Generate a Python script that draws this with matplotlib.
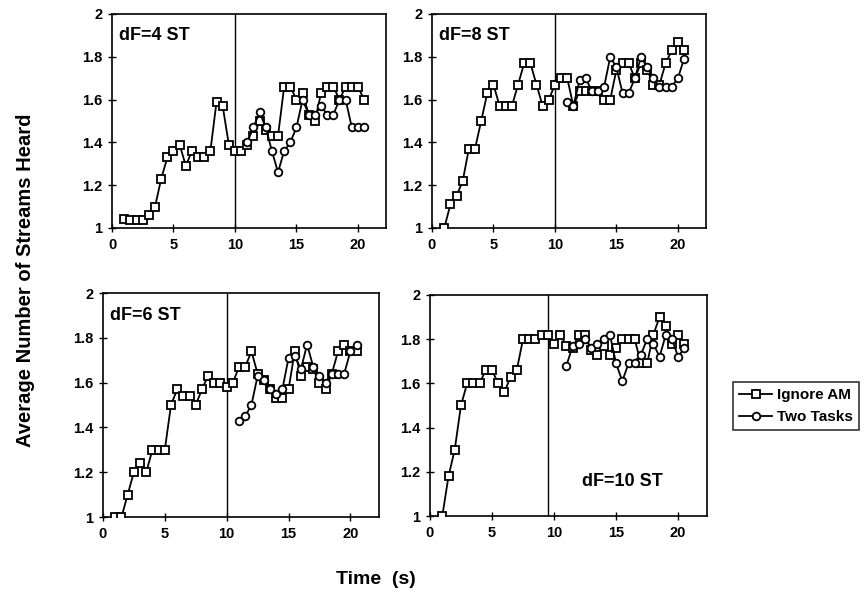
import matplotlib
matplotlib.use("Agg")
import matplotlib.pyplot as plt
from matplotlib.ticker import FuncFormatter

plt.rcParams["font.family"] = ["Liberation Sans", "DejaVu Sans"]
plt.rcParams["font.weight"] = "bold"

# ==========================================================
# DATA
# ==========================================================

time_ignore = [
    1.0, 1.5, 2.0, 2.5, 3.0, 3.5, 4.0, 4.5, 5.0, 5.5,
    6.0, 6.5, 7.0, 7.5, 8.0, 8.5, 9.0, 9.5, 10.0, 10.5,
    11.0, 11.5, 12.0, 12.5, 13.0, 13.5, 14.0, 14.5, 15.0, 15.5,
    16.0, 16.5, 17.0, 17.5, 18.0, 18.5, 19.0, 19.5, 20.0, 20.5,
]

time_two = [
    11.0, 11.5, 12.0, 12.5, 13.0, 13.5, 14.0, 14.5, 15.0, 15.5,
    16.0, 16.5, 17.0, 17.5, 18.0, 18.5, 19.0, 19.5, 20.0, 20.5,
]

# dF=4 ST
ignore_4 = [
    1.04, 1.035, 1.035, 1.035, 1.06, 1.10, 1.23, 1.33, 1.36, 1.39,
    1.29, 1.36, 1.33, 1.33, 1.36, 1.59, 1.57, 1.39, 1.36, 1.36,
    1.39, 1.43, 1.50, 1.46, 1.43, 1.43, 1.66, 1.66, 1.60, 1.63,
    1.53, 1.50, 1.63, 1.66, 1.66, 1.60, 1.66, 1.66, 1.66, 1.60,
]
two_4 = [
    1.40, 1.47, 1.54, 1.47, 1.36, 1.26, 1.36, 1.40, 1.47, 1.60,
    1.53, 1.53, 1.57, 1.53, 1.53, 1.60, 1.60, 1.47, 1.47, 1.47,
]

# dF=8 ST
ignore_8 = [
    1.00, 1.11, 1.15, 1.22, 1.37, 1.37, 1.50, 1.63, 1.67, 1.57,
    1.57, 1.57, 1.67, 1.77, 1.77, 1.67, 1.57, 1.60, 1.67, 1.70,
    1.70, 1.57, 1.64, 1.64, 1.64, 1.64, 1.60, 1.60, 1.74, 1.77,
    1.77, 1.70, 1.77, 1.74, 1.67, 1.67, 1.77, 1.83, 1.87, 1.83,
]
two_8 = [
    1.59, 1.57, 1.69, 1.70, 1.64, 1.64, 1.66, 1.80, 1.75, 1.63,
    1.63, 1.70, 1.80, 1.75, 1.70, 1.66, 1.66, 1.66, 1.70, 1.79,
]

# dF=6 ST
ignore_6 = [
    1.00, 1.00, 1.10, 1.20, 1.24, 1.20, 1.30, 1.30, 1.30, 1.50,
    1.57, 1.54, 1.54, 1.50, 1.57, 1.63, 1.60, 1.60, 1.58, 1.60,
    1.67, 1.67, 1.74, 1.64, 1.61, 1.57, 1.53, 1.53, 1.57, 1.74,
    1.63, 1.67, 1.66, 1.60, 1.57, 1.64, 1.74, 1.77, 1.74, 1.74,
]
two_6 = [
    1.43, 1.45, 1.50, 1.63, 1.61, 1.57, 1.55, 1.57, 1.71, 1.72,
    1.66, 1.77, 1.67, 1.63, 1.60, 1.64, 1.64, 1.64, 1.74, 1.77,
]

# dF=10 ST
ignore_10 = [
    1.00, 1.18, 1.30, 1.50, 1.60, 1.60, 1.60, 1.66, 1.66, 1.60,
    1.56, 1.63, 1.66, 1.80, 1.80, 1.80, 1.82, 1.82, 1.78, 1.82,
    1.77, 1.76, 1.82, 1.82, 1.75, 1.73, 1.77, 1.73, 1.76, 1.80,
    1.80, 1.80, 1.69, 1.69, 1.82, 1.90, 1.86, 1.78, 1.82, 1.78,
]
two_10 = [
    1.68, 1.77, 1.78, 1.80, 1.76, 1.78, 1.80, 1.82, 1.69, 1.61,
    1.69, 1.69, 1.73, 1.80, 1.78, 1.72, 1.82, 1.80, 1.72, 1.76,
]

panel_labels = ["dF=4 ST", "dF=8 ST", "dF=6 ST", "dF=10 ST"]
marker_lines = [10.0, 10.0, 10.0, 9.5]

# ==========================================================
# FIGURE
# ==========================================================

fig = plt.figure(figsize=(8.65, 5.94), dpi=100)

positions = [
    [0.1295, 0.6162, 0.317, 0.3603],
    [0.4994, 0.6162, 0.317, 0.3603],
    [0.1190, 0.1296, 0.319, 0.3771],
    [0.4970, 0.1313, 0.320, 0.3721],
]

ignore_sets = [ignore_4, ignore_8, ignore_6, ignore_10]
two_sets = [two_4, two_8, two_6, two_10]

label_pos = [(0.025, 0.90, "left"), (0.025, 0.90, "left"),
             (0.025, 0.90, "left"), (0.695, 0.155, "center")]

for i in range(4):

    ax = fig.add_axes(positions[i])

    ax.plot(
        time_ignore,
        ignore_sets[i],
        color="black",
        lw=1.3,
        marker="s",
        markersize=6,
        markerfacecolor="white",
        markeredgecolor="black",
        markeredgewidth=1.3,
        label="Ignore AM",
        zorder=3
    )

    ax.plot(
        time_two,
        two_sets[i],
        color="black",
        lw=1.3,
        marker="o",
        markersize=5.5,
        markerfacecolor="white",
        markeredgecolor="black",
        markeredgewidth=1.3,
        label="Two Tasks",
        zorder=4
    )

    ax.axvline(marker_lines[i], color="black", lw=1.0, zorder=2)

    ax.set_xlim(0, 22.3)
    ax.set_ylim(1, 2)
    ax.set_xticks([0, 5, 10, 15, 20])
    ax.set_yticks([1, 1.2, 1.4, 1.6, 1.8, 2])
    ax.yaxis.set_major_formatter(FuncFormatter(lambda v, p: "%g" % v))

    ax.tick_params(
        direction="inout",
        length=6,
        width=1,
        labelsize=10.5,
        pad=4
    )

    for tick in ax.get_xticklabels() + ax.get_yticklabels():
        tick.set_fontweight("bold")

    for spine in ax.spines.values():
        spine.set_linewidth(1.2)

    lx, ly, ha = label_pos[i]

    ax.text(
        lx,
        ly,
        panel_labels[i],
        transform=ax.transAxes,
        fontsize=13,
        fontweight="bold",
        ha=ha,
        va="center"
    )

    if i == 0:
        handles, labels = ax.get_legend_handles_labels()

# ==========================================================
# LEGEND AND LABELS
# ==========================================================

leg = fig.legend(
    handles,
    labels,
    loc="center",
    bbox_to_anchor=(0.920, 0.316),
    frameon=True,
    fancybox=False,
    edgecolor="black",
    fontsize=11,
    handlelength=2.2,
    handletextpad=0.3,
    borderpad=0.4,
    labelspacing=0.5
)
leg.get_frame().set_linewidth(1.2)
for t in leg.get_texts():
    t.set_fontweight("bold")

fig.text(
    0.029,
    0.529,
    "Average Number of Streams Heard",
    rotation=90,
    ha="center",
    va="center",
    fontsize=14.5,
    fontweight="bold"
)

fig.text(
    0.434,
    0.024,
    "Time  (s)",
    ha="center",
    va="center",
    fontsize=14,
    fontweight="bold"
)

fig.savefig("out.png", dpi=100)
